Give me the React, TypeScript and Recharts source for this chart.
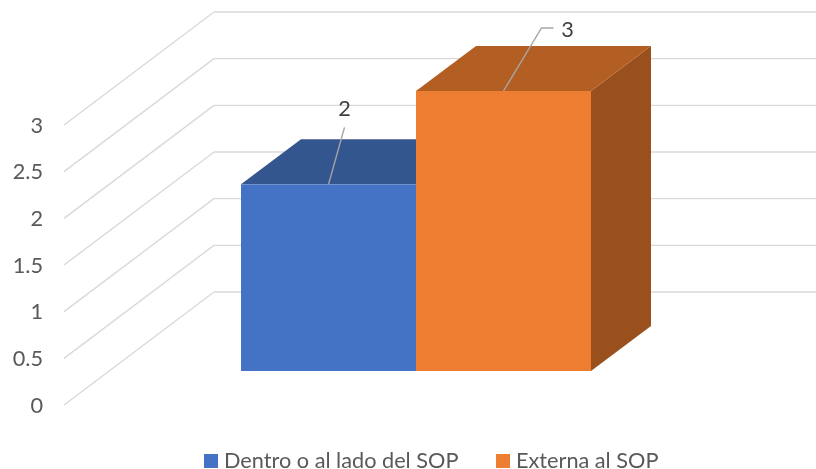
import { BarChart, Bar, XAxis, YAxis, ReferenceLine, Legend, LabelList } from "recharts";

const categories = ["Ubicación"];
const dentroValues = [2];
const externaValues = [3];
const yTicks = [0, 0.5, 1, 1.5, 2, 2.5, 3];

const data = categories.map((name, i) => ({
  name,
  dentro: dentroValues[i],
  externa: externaValues[i],
}));

const GRID = "#D9D9D9";
const FONT = "Lato, 'Open Sans', sans-serif";
// fake 3d: how far the back of a bar / the back wall sits from the front
const BAR_DX = 60;
const BAR_DY = 45;
const WALL_DX = 150;
const WALL_DY = 113;

function Box3D(props: any) {
  const { x, y, width, height, fill, topFill, sideFill } = props;
  const r = x + width;
  const b = y + height;
  return (
    <g>
      <polygon
        points={`${r},${y} ${r + BAR_DX},${y - BAR_DY} ${r + BAR_DX},${b - BAR_DY} ${r},${b}`}
        fill={sideFill}
      />
      <polygon
        points={`${x},${y} ${x + BAR_DX},${y - BAR_DY} ${r + BAR_DX},${y - BAR_DY} ${r},${y}`}
        fill={topFill}
      />
      <rect x={x} y={y} width={width} height={height} fill={fill} />
    </g>
  );
}

function BackLine(props: any) {
  return <line x1={props.x1 + WALL_DX} y1={props.y1} x2={816} y2={props.y1} stroke={GRID} strokeWidth={1.4} />;
}

function SideLine(props: any) {
  return (
    <line
      x1={props.x1}
      y1={props.y1}
      x2={props.x1 + WALL_DX}
      y2={props.y1 - WALL_DY}
      stroke={GRID}
      strokeWidth={1.4}
    />
  );
}

// data label with its leader line, offsets are from the top middle of the bar
function leaderLabel(points: number[][], dx: number, dy: number) {
  return (props: any) => {
    const cx = props.x + props.width / 2;
    const cy = props.y;
    const path = [[0, 0], ...points].map((p) => `${cx + p[0]},${cy + p[1]}`).join(" ");
    return (
      <g>
        <polyline points={path} fill="none" stroke="#A6A6A6" strokeWidth={1.4} />
        <text
          x={cx + dx}
          y={cy + dy}
          textAnchor="middle"
          dominantBaseline="central"
          fontFamily={FONT}
          fontSize={21.7}
          fill="#404040"
        >
          {props.value}
        </text>
      </g>
    );
  };
}

function LegendRow(props: any) {
  const starts = [204, 496];
  return (
    <div style={{ position: "relative", height: 18, width: 816 }}>
      {(props.payload || []).map((p: any, i: number) => (
        <div
          key={p.value}
          style={{
            position: "absolute",
            left: starts[i],
            top: 0,
            display: "flex",
            alignItems: "center",
            fontFamily: FONT,
            fontSize: 21.7,
            lineHeight: "18px",
            color: "#595959",
            whiteSpace: "nowrap",
          }}
        >
          <span
            style={{
              width: 14,
              height: 14,
              background: p.color,
              marginRight: 6,
              display: "inline-block",
              position: "relative",
              top: 1,
            }}
          />
          {p.value}
        </div>
      ))}
    </div>
  );
}

export default function App() {
  return (
    <div style={{ position: "fixed", left: 0, top: 0 }}>
      <BarChart
        width={816}
        height={469}
        data={data}
        margin={{ top: 12, right: 0, bottom: 64, left: 0 }}
        barCategoryGap={0}
        barGap={0}
      >
        <XAxis dataKey="name" hide padding={{ left: 177, right: 225 }} />
        <YAxis
          yAxisId="wall"
          width={64}
          domain={[0, 3]}
          allowDataOverflow
          ticks={yTicks}
          interval={0}
          padding={{ top: 113, bottom: 0 }}
          axisLine={false}
          tickLine={false}
          tickSize={0}
          tickMargin={21}
          tick={{ fontFamily: FONT, fontSize: 21.7, fill: "#595959" }}
        />
        <YAxis yAxisId="back" hide width={0} domain={[0, 3]} allowDataOverflow padding={{ top: 0, bottom: 113 }} />
        <YAxis yAxisId="bars" hide width={0} domain={[0, 3]} padding={{ top: 79, bottom: 34 }} />
        {yTicks.map((t) => (
          <ReferenceLine key={`back${t}`} yAxisId="back" y={t} zIndex={-100} shape={<BackLine />} />
        ))}
        {yTicks.map((t) => (
          <ReferenceLine key={`side${t}`} yAxisId="wall" y={t} zIndex={-100} shape={<SideLine />} />
        ))}
        <Bar
          yAxisId="bars"
          dataKey="dentro"
          name="Dentro o al lado del SOP"
          fill="#4472C4"
          isAnimationActive={false}
          shape={<Box3D topFill="#34568F" sideFill="#2B4A80" />}
        >
          <LabelList dataKey="dentro" content={leaderLabel([[16, -57]], 16, -76)} />
        </Bar>
        <Bar
          yAxisId="bars"
          dataKey="externa"
          name="Externa al SOP"
          fill="#ED7D31"
          isAnimationActive={false}
          shape={<Box3D topFill="#B35E22" sideFill="#9A501C" />}
        >
          <LabelList dataKey="externa" content={leaderLabel([[38, -63], [50, -63]], 64, -62)} />
        </Bar>
        <Legend verticalAlign="middle" content={<LegendRow />} wrapperStyle={{ top: 451, left: 0, width: 816 }} />
      </BarChart>
    </div>
  );
}
